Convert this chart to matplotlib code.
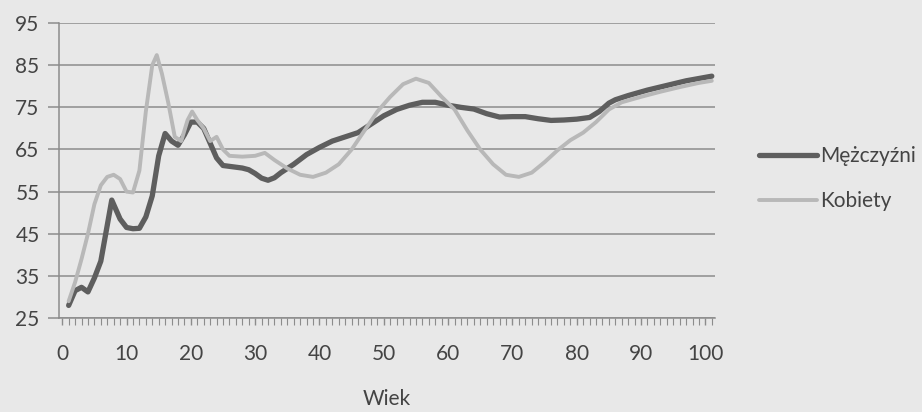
import matplotlib
matplotlib.use("Agg")
import matplotlib.pyplot as plt
from matplotlib.ticker import MultipleLocator

plt.rcParams['font.family'] = ['Lato', 'DejaVu Sans']

men_age = [1, 2, 3, 4, 5, 6, 7, 7.7, 9, 10, 11, 12, 13, 14, 15, 16, 17, 18, 19, 20,
           21, 22, 23, 24, 25, 26, 27, 28, 29, 30, 31, 32, 33, 34, 36, 38, 40, 42, 44, 46,
           48, 50, 52, 54, 56, 58, 60, 62, 64, 66, 68, 70, 72, 74, 76, 78, 80, 82, 83.5, 85,
           86, 88, 91, 94, 97, 101]
men_val = [28, 31.5, 32.3, 31.2, 34.5, 38.5, 47, 53, 48.5, 46.5, 46.2, 46.3, 49, 54, 63.5, 68.8, 67, 66, 68.5, 71.5,
           71.5, 70, 66.5, 63, 61.2, 61, 60.8, 60.6, 60.2, 59.3, 58.2, 57.7, 58.3, 59.5, 61.5, 63.8, 65.5, 67, 68, 69,
           71, 73, 74.5, 75.5, 76.2, 76.2, 75.5, 75, 74.6, 73.5, 72.7, 72.8, 72.8, 72.3, 71.9, 72, 72.2, 72.6, 74, 76,
           76.8, 77.8, 79.1, 80.2, 81.3, 82.4]

women_age = [1, 2, 3, 4, 5, 6, 7, 8, 9, 10, 11, 12, 13, 14, 14.7, 15.5, 16.5, 17.5, 18.5, 19.5,
             20.2, 21, 22, 23, 24, 25, 26, 28, 30, 31.5, 33, 35, 37, 39, 41, 43, 45, 47, 49, 51,
             53, 55, 57, 59, 61, 63, 65, 67, 69, 71, 73, 75, 77, 79, 81, 83, 85, 87, 90, 93,
             96, 99, 101]
women_val = [29, 33.5, 39, 45, 52, 56.5, 58.5, 59, 58, 55, 54.8, 60, 74, 85, 87.4, 83, 76, 68, 67, 72,
             74, 72, 70, 67, 68, 65, 63.5, 63.3, 63.5, 64.2, 62.5, 60.5, 59, 58.5, 59.5, 61.5, 65, 69.5, 74, 77.5,
             80.5, 81.8, 80.8, 77.5, 74.5, 69.5, 65, 61.5, 59, 58.5, 59.5, 62, 64.8, 67.2, 69, 71.5, 74.5, 76.2, 77.5, 78.7,
             79.8, 80.8, 81.3]

x_ticks = [0, 10, 20, 30, 40, 50, 60, 70, 80, 90, 100]
y_ticks = [25, 35, 45, 55, 65, 75, 85, 95]

bg = '#e8e8e8'
grid_c = '#8c8c8c'
text_c = '#444444'

fig = plt.figure(figsize=(9.22, 4.12), dpi=100, facecolor=bg)
ax = fig.add_axes([0.064, 0.228, 0.7115, 0.716])
ax.set_facecolor(bg)

ax.plot(men_age, men_val, color='#5e5e5e', lw=3.8, solid_joinstyle='round',
        solid_capstyle='round', label='Mężczyźni', zorder=3)
ax.plot(women_age, women_val, color='#b8b8b8', lw=2.8, solid_joinstyle='round',
        solid_capstyle='round', label='Kobiety', zorder=4)

ax.set_xlim(-0.5, 101.5)
ax.set_ylim(25, 95)
ax.set_xticks(x_ticks)
ax.set_xticklabels([str(v) for v in x_ticks])
ax.set_yticks(y_ticks)
ax.set_yticklabels([str(v) for v in y_ticks])
ax.xaxis.set_minor_locator(MultipleLocator(1))

ax.yaxis.grid(True, color=grid_c, lw=1.1, zorder=1)
ax.set_axisbelow(True)

for s in ['top', 'right']:
    ax.spines[s].set_visible(False)
ax.spines['left'].set_color(grid_c)
ax.spines['left'].set_linewidth(1.1)
ax.spines['bottom'].set_color(grid_c)
ax.spines['bottom'].set_linewidth(1.1)

ax.tick_params(axis='y', which='major', length=8, color=grid_c, width=1.1,
               labelsize=15, labelcolor=text_c, pad=6)
ax.tick_params(axis='x', which='major', length=5, color=grid_c, width=1,
               labelsize=15, labelcolor=text_c, pad=14)
ax.tick_params(axis='x', which='minor', length=5, color=grid_c, width=0.8)

ax.set_xlabel('Wiek', fontsize=15, color=text_c, labelpad=18)

leg = ax.legend(loc='upper left', bbox_to_anchor=(1.055, 0.61), frameon=False,
                fontsize=15, handlelength=2.75, handletextpad=0.15, labelspacing=1.2,
                labelcolor=text_c, borderaxespad=0)

fig.savefig('out.png', dpi=100, facecolor=bg)
